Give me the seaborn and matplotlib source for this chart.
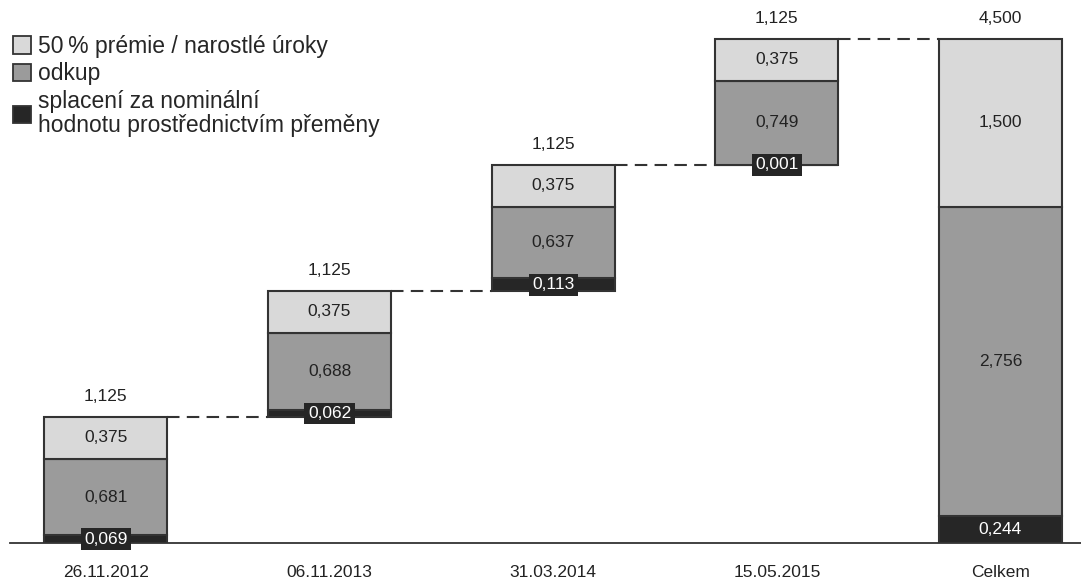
import matplotlib
matplotlib.use("Agg")
import matplotlib.pyplot as plt
from matplotlib.patches import Patch
import seaborn as sns
import numpy as np
import pandas as pd

# ---- data ----
categories = ["26.11.2012", "06.11.2013", "31.03.2014", "15.05.2015", "Celkem"]
premie = [0.375, 0.375, 0.375, 0.375, 1.500]
odkup = [0.681, 0.688, 0.637, 0.749, 2.756]
splaceni = [0.069, 0.062, 0.113, 0.001, 0.244]
totals = [1.125, 1.125, 1.125, 1.125, 4.500]
is_total = [False, False, False, False, True]
series_names = ["50\u2009% prémie / narostlé úroky", "odkup",
                "splacení za nominální\nhodnotu prostřednictvím přeměny"]

def fmt(v):
    return f"{v:.3f}".replace(".", ",")

# waterfall bases
bases = []
run = 0.0
for t, tot in zip(totals, is_total):
    if tot:
        bases.append(0.0)
    else:
        bases.append(run)
        run += t
bases = np.array(bases)
premie_a = np.array(premie)
odkup_a = np.array(odkup)
spl_a = np.array(splaceni)

sns.set_theme(style="white")
plt.rcParams["font.family"] = ["Liberation Sans", "DejaVu Sans"]

c_light = "#d9d9d9"
c_mid = "#9b9b9b"
c_dark = "#262626"
edge = "#333333"
FS = 12.5

fig = plt.figure(figsize=(10.81, 5.79), dpi=100)
ax = fig.add_axes([0.009, 0.0622, 0.991, 0.9378])

df = pd.DataFrame({"cat": categories, "premie": premie, "odkup": odkup,
                   "spl": splaceni})
W = 0.55
sns.barplot(data=df, x="cat", y="spl", bottom=bases, color=c_dark,
            saturation=1, width=W, edgecolor=edge, linewidth=1.5, ax=ax)
sns.barplot(data=df, x="cat", y="odkup", bottom=bases + spl_a, color=c_mid,
            saturation=1, width=W, edgecolor=edge, linewidth=1.5, ax=ax)
sns.barplot(data=df, x="cat", y="premie", bottom=bases + spl_a + odkup_a,
            color=c_light, saturation=1, width=W, edgecolor=edge,
            linewidth=1.5, ax=ax)

# labels
for i in range(len(categories)):
    b = bases[i]
    ax.text(i, b + spl_a[i] / 2, fmt(splaceni[i]), ha="center", va="center",
            color="white", fontsize=FS,
            bbox=dict(boxstyle="square,pad=0.2", fc=c_dark, ec="none"),
            zorder=6)
    ax.text(i, b + spl_a[i] + odkup_a[i] / 2, fmt(odkup[i]), ha="center",
            va="center", color="#222222", fontsize=FS, zorder=6)
    ax.text(i, b + spl_a[i] + odkup_a[i] + premie_a[i] / 2, fmt(premie[i]),
            ha="center", va="center", color="#222222", fontsize=FS, zorder=6)
    top = b + totals[i]
    ax.annotate(fmt(totals[i]), (i, top), xytext=(0, 9),
                textcoords="offset points", ha="center", va="bottom",
                fontsize=FS, color="#222222")

# dashed connectors
for i in range(len(categories) - 1):
    y = bases[i] + totals[i]
    ax.plot([i + W / 2, i + 1 - W / 2], [y, y], color=edge, lw=1.5,
            ls=(0, (6, 3.5)), zorder=1)

ax.set_ylim(0, 4.848)
ax.set_xlim(-0.43, 4.36)
for s in ["top", "right", "left"]:
    ax.spines[s].set_visible(False)
ax.spines["bottom"].set_color(edge)
ax.spines["bottom"].set_linewidth(1.3)
ax.set_yticks([])
ax.set_xlabel("")
ax.set_ylabel("")
ax.tick_params(axis="x", length=0, pad=16, labelsize=FS, labelcolor="#222222")

handles = [Patch(facecolor=c_light, edgecolor=edge, lw=1.3),
           Patch(facecolor=c_mid, edgecolor=edge, lw=1.3),
           Patch(facecolor=c_dark, edgecolor=edge, lw=1.3)]
fig.legend(handles, series_names, loc="upper left",
           bbox_to_anchor=(0.012, 0.94), frameon=False, fontsize=16.5,
           handlelength=0.8, handleheight=0.8, handletextpad=0.3,
           labelspacing=0.2, borderpad=0, borderaxespad=0)
for t in fig.legends[0].get_texts():
    t.set_linespacing(1.05)
    t.set_family(["Liberation Sans", "DejaVu Sans"])

fig.savefig("out.png", dpi=100)
